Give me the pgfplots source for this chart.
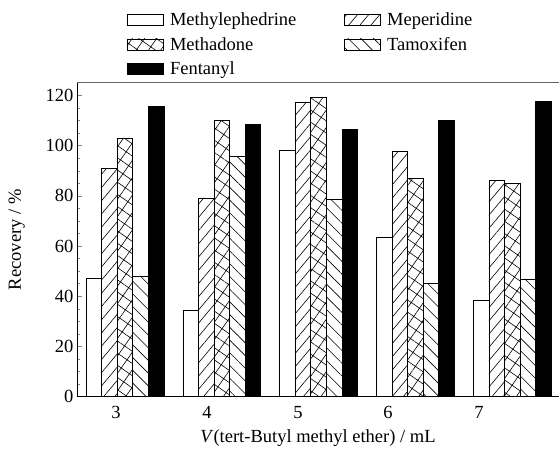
\documentclass[border=0pt]{standalone}
\usepackage{pgfplots}
\pgfplotsset{compat=1.18}
\usepackage{fontspec}
\setmainfont{Liberation Serif}
\usetikzlibrary{patterns.meta}

% bar width in axis units (one group spans 1 unit)
\def\bw{0.161}

\begin{document}
\begin{tikzpicture}
\begin{axis}[
  name=ax,
  scale only axis,
  width=482pt, height=313.7pt,
  xmin=2.504, xmax=7.483,
  ymin=0, ymax=125,
  ybar, bar width=\bw,
  axis x line*=bottom,
  axis y line*=left,
  axis line style={-, line width=0.8pt},
  xtick={2.907,3.847,4.787,5.717,6.657},
  xticklabels={3,4,5,6,7},
  xtick style={draw=none},
  ytick={0,20,40,60,80,100,120},
  minor y tick num=3,
  tick align=inside,
  ytick pos=left,
  major tick length=5pt, minor tick length=3pt,
  ytick style={line width=0.6pt},
  tick label style={font=\fontsize{18.5}{22}\selectfont},
  /pgf/number format/assume math mode=true,
  xticklabel style={yshift=-6pt},
  xlabel={\textit{V}(tert-Butyl methyl ether) / mL},
  ylabel={Recovery / \%},
  label style={font=\fontsize{18.5}{22}\selectfont},
  xlabel style={yshift=-4pt},
  ylabel style={yshift=14pt},
  legend columns=2,
  legend cell align=left,
  legend image code/.code={\draw[#1] (0pt,-5.5pt) rectangle (36pt,5.5pt);},
  legend style={
    draw=none, fill=none,
    font=\fontsize{18.5}{22}\selectfont,
    at={(0.104,1.015)}, anchor=south west,
    inner sep=0pt, row sep=6pt,
    /tikz/every even column/.append style={column sep=46pt},
    /tikz/every odd column/.append style={column sep=4pt},
  },
]
\addplot[draw=black, line width=0.7pt, fill=white, bar shift=-2*\bw]
  coordinates {(3,47.1) (4,34.5) (5,98.1) (6,63.4) (7,38.5)};
\addlegendentry{Methylephedrine}
\addplot[draw=black, line width=0.7pt, bar shift=-\bw,
  pattern={Lines[angle=50,distance=8.5pt,line width=0.6pt]}]
  coordinates {(3,90.9) (4,79.2) (5,117.1) (6,97.9) (7,86.1)};
\addlegendentry{Meperidine}
\addplot[draw=black, line width=0.7pt, bar shift=0,
  pattern={Hatch[angle=55,distance=10pt,line width=0.6pt]}]
  coordinates {(3,102.8) (4,110.1) (5,119.1) (6,86.9) (7,84.9)};
\addlegendentry{Methadone}
\addplot[draw=black, line width=0.7pt, bar shift=\bw,
  pattern={Lines[angle=-45,distance=9pt,line width=0.6pt]}]
  coordinates {(3,48.1) (4,95.7) (5,78.5) (6,45.1) (7,46.9)};
\addlegendentry{Tamoxifen}
\addplot[draw=black, line width=0.7pt, fill=black, bar shift=2*\bw]
  coordinates {(3,115.8) (4,108.5) (5,106.4) (6,110.1) (7,117.6)};
\addlegendentry{Fentanyl}
\end{axis}
\draw[black!60, line width=1pt] (ax.north west) -- (ax.north east);
\pgfresetboundingbox
\path ([shift={(-77pt,-57.3pt)}]ax.south west) rectangle ([shift={(0pt,83pt)}]ax.north east);
\end{tikzpicture}
\end{document}
